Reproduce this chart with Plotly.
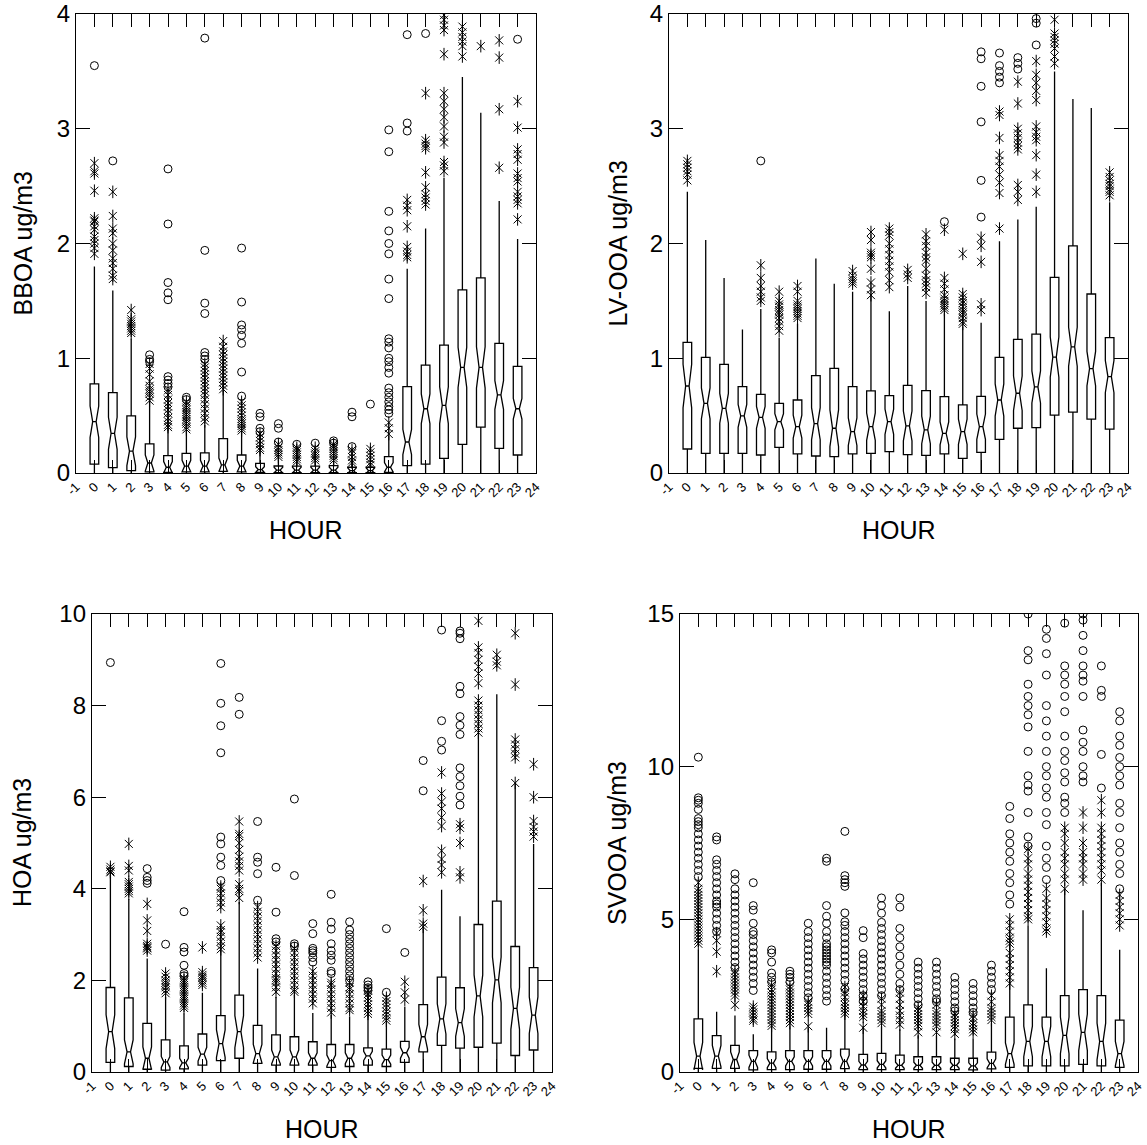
import plotly.graph_objects as go

W, H = 1147, 1145
HOURS = list(range(24))
XTICK_VALS = list(range(-1, 25))
XTICK_TEXT = [str(v) for v in XTICK_VALS]

# ---------------- BBOA ----------------
BBOA_Q1 = [0.078, 0.047, 0.02, 0.01, 0.005, 0.01, 0.01, 0.015, 0.01, 0.005, 0.004, 0.004, 0.004, 0.004, 0.003, 0.003, 0.005, 0.064, 0.078, 0.128, 0.25, 0.40, 0.215, 0.157]
BBOA_MED = [0.447, 0.346, 0.19, 0.087, 0.05, 0.06, 0.06, 0.07, 0.06, 0.03, 0.025, 0.025, 0.025, 0.025, 0.02, 0.02, 0.05, 0.27, 0.56, 0.59, 0.92, 0.92, 0.68, 0.56]
BBOA_Q3 = [0.776, 0.70, 0.497, 0.253, 0.151, 0.171, 0.175, 0.30, 0.157, 0.084, 0.061, 0.06, 0.06, 0.065, 0.05, 0.05, 0.142, 0.752, 0.94, 1.115, 1.595, 1.70, 1.13, 0.93]
BBOA_LO = [0.0] * 24
BBOA_HI = [1.80, 1.59, 1.17, 0.63, 0.40, 0.38, 0.42, 0.72, 0.37, 0.20, 0.13, 0.10, 0.10, 0.10, 0.08, 0.07, 0.33, 1.78, 2.13, 2.57, 3.45, 3.14, 2.37, 2.04]
BBOA_NOTCH = [0.137, 0.14, 0.125, 0.07, 0.05, 0.05, 0.05, 0.06, 0.05, 0.025, 0.025, 0.025, 0.025, 0.025, 0.025, 0.025, 0.04, 0.11, 0.13, 0.16, 0.175, 0.18, 0.125, 0.09]
BBOA_STAR = [
    [2.70, 2.63, 2.61, 2.46, 2.22, 2.20, 2.19, 2.15, 2.12, 2.06, 2.03, 2.00, 1.96, 1.91],
    [2.45, 2.24, 2.13, 2.09, 2.00, 1.94, 1.87, 1.83, 1.78, 1.72, 1.69],
    [1.42, 1.34, 1.32, 1.30, 1.28, 1.26, 1.24, 1.22],
    [0.95, 0.91, 0.86, 0.80, 0.76, 0.73, 0.71, 0.69, 0.66, 0.63],
    [0.72, 0.68, 0.64, 0.61, 0.58, 0.55, 0.52, 0.48, 0.45, 0.42, 0.40],
    [0.62, 0.59, 0.57, 0.55, 0.53, 0.51, 0.49, 0.47, 0.45, 0.43, 0.40, 0.38],
    [0.95, 0.92, 0.89, 0.86, 0.83, 0.80, 0.77, 0.74, 0.71, 0.68, 0.64, 0.60, 0.56, 0.52, 0.48, 0.45],
    [1.15, 1.10, 1.06, 1.03, 1.00, 0.97, 0.94, 0.91, 0.88, 0.85, 0.82, 0.79, 0.76, 0.73],
    [0.62, 0.59, 0.56, 0.53, 0.50, 0.47, 0.45, 0.43, 0.41, 0.39, 0.37],
    [0.34, 0.31, 0.28, 0.25, 0.22, 0.20],
    [0.25, 0.22, 0.20, 0.18, 0.16, 0.14],
    [0.22, 0.20, 0.18, 0.16, 0.14, 0.12, 0.10],
    [0.22, 0.19, 0.17, 0.15, 0.13, 0.11],
    [0.25, 0.23, 0.21, 0.19, 0.17, 0.15, 0.13, 0.11],
    [0.20, 0.17, 0.14, 0.11, 0.09],
    [0.21, 0.18, 0.15, 0.12, 0.09, 0.07],
    [0.44, 0.39, 0.34],
    [2.38, 2.33, 2.29, 2.15, 1.97, 1.93, 1.90, 1.88],
    [3.31, 2.90, 2.87, 2.85, 2.83, 2.62, 2.49, 2.43, 2.40, 2.37, 2.34],
    [3.99, 3.95, 3.90, 3.86, 3.65, 3.31, 3.24, 3.17, 3.10, 3.02, 2.93, 2.88, 2.71, 2.68, 2.63],
    [3.89, 3.84, 3.80, 3.76, 3.72, 3.63],
    [3.72],
    [3.77, 3.62, 3.17, 2.66],
    [3.24, 3.01, 2.82, 2.78, 2.73, 2.61, 2.57, 2.54, 2.45, 2.41, 2.38, 2.35, 2.21],
]
BBOA_CIRC = [
    [3.55], [2.72], [], [1.03, 0.99, 0.97],
    [2.65, 2.17, 1.66, 1.57, 1.51, 0.84, 0.81, 0.78, 0.75],
    [0.66, 0.64],
    [3.79, 1.94, 1.48, 1.39, 1.05, 1.02, 0.99],
    [],
    [1.96, 1.49, 1.29, 1.25, 1.20, 1.13, 0.88, 0.67],
    [0.52, 0.49, 0.39, 0.36],
    [0.43, 0.39, 0.27],
    [0.25], [0.26], [0.28, 0.26], [0.53, 0.49, 0.23], [0.60],
    [2.99, 2.80, 2.28, 2.11, 2.00, 1.91, 1.69, 1.52, 1.17, 1.14, 1.09, 1.00, 0.97, 0.92, 0.87, 0.74, 0.70, 0.66, 0.62, 0.58, 0.55, 0.52],
    [3.82, 3.05, 2.98],
    [3.83], [], [], [], [], [3.78],
]

# ---------------- LV-OOA ----------------
LV_Q1 = [0.209, 0.171, 0.171, 0.171, 0.157, 0.224, 0.166, 0.148, 0.142, 0.166, 0.171, 0.186, 0.16, 0.154, 0.166, 0.128, 0.18, 0.293, 0.39, 0.395, 0.505, 0.53, 0.47, 0.383]
LV_MED = [0.758, 0.607, 0.564, 0.497, 0.485, 0.447, 0.404, 0.43, 0.39, 0.36, 0.404, 0.447, 0.41, 0.375, 0.346, 0.36, 0.404, 0.636, 0.695, 0.75, 1.01, 1.10, 0.91, 0.84]
LV_Q3 = [1.139, 1.008, 0.947, 0.752, 0.685, 0.607, 0.636, 0.848, 0.912, 0.752, 0.715, 0.674, 0.764, 0.717, 0.665, 0.593, 0.668, 1.008, 1.165, 1.21, 1.705, 1.98, 1.56, 1.18]
LV_LO = [0.0] * 24
LV_HI = [2.45, 2.03, 1.70, 1.25, 1.43, 1.18, 1.30, 1.87, 1.65, 1.58, 1.55, 1.41, 1.63, 1.50, 1.39, 1.27, 1.31, 2.02, 2.21, 2.32, 3.50, 3.26, 3.18, 2.36]
LV_NOTCH = [0.19, 0.135, 0.13, 0.10, 0.095, 0.07, 0.10, 0.14, 0.16, 0.12, 0.12, 0.11, 0.13, 0.12, 0.10, 0.11, 0.11, 0.14, 0.15, 0.14, 0.175, 0.17, 0.15, 0.14]
LV_STAR = [
    [2.72, 2.69, 2.66, 2.63, 2.60, 2.55],
    [], [], [],
    [1.81, 1.70, 1.63, 1.58, 1.53, 1.50],
    [1.58, 1.50, 1.47, 1.45, 1.42, 1.40, 1.38, 1.35, 1.32, 1.28, 1.24],
    [1.63, 1.58, 1.50, 1.47, 1.45, 1.43, 1.41, 1.39, 1.37, 1.35],
    [], [],
    [1.76, 1.72, 1.69, 1.67, 1.65],
    [2.10, 2.03, 1.92, 1.90, 1.88, 1.78, 1.66, 1.60, 1.55],
    [2.13, 2.10, 2.07, 2.00, 1.95, 1.90, 1.85, 1.80, 1.75, 1.68, 1.62],
    [1.77, 1.73, 1.70],
    [2.08, 2.02, 1.98, 1.92, 1.88, 1.85, 1.78, 1.72, 1.68, 1.65, 1.62, 1.57],
    [2.12, 1.70, 1.65, 1.60, 1.55, 1.52, 1.50, 1.48, 1.46, 1.44, 1.42],
    [1.91, 1.56, 1.53, 1.50, 1.48, 1.45, 1.42, 1.40, 1.38, 1.35, 1.32, 1.30],
    [2.05, 1.98, 1.84, 1.47, 1.42],
    [3.15, 3.12, 2.92, 2.77, 2.72, 2.67, 2.60, 2.53, 2.44, 2.13],
    [3.41, 3.22, 3.00, 2.96, 2.92, 2.88, 2.85, 2.82, 2.51, 2.45, 2.38],
    [3.59, 3.47, 3.40, 3.33, 3.25, 3.02, 2.97, 2.93, 2.90, 2.77, 2.60, 2.45],
    [3.95, 3.83, 3.80, 3.77, 3.74, 3.70, 3.63, 3.57],
    [], [],
    [2.62, 2.58, 2.55, 2.52, 2.50, 2.47, 2.45, 2.42],
]
LV_CIRC = [
    [], [], [], [], [2.72], [], [], [], [], [], [], [], [], [], [2.19], [],
    [3.67, 3.61, 3.37, 3.06, 2.55, 2.23],
    [3.66, 3.55, 3.50, 3.45, 3.40],
    [3.62, 3.57, 3.52],
    [3.96, 3.92, 3.73],
    [], [], [], [],
]

# ---------------- HOA ----------------
HOA_Q1 = [0.21, 0.12, 0.06, 0.04, 0.07, 0.15, 0.25, 0.30, 0.19, 0.15, 0.15, 0.15, 0.10, 0.12, 0.15, 0.12, 0.21, 0.44, 0.58, 0.52, 0.54, 0.63, 0.36, 0.48]
HOA_MED = [0.88, 0.44, 0.30, 0.22, 0.20, 0.39, 0.62, 0.88, 0.40, 0.33, 0.33, 0.30, 0.25, 0.30, 0.35, 0.27, 0.42, 0.77, 1.16, 1.08, 1.66, 2.01, 1.39, 1.24]
HOA_Q3 = [1.845, 1.62, 1.06, 0.70, 0.57, 0.83, 1.23, 1.68, 1.02, 0.81, 0.77, 0.66, 0.60, 0.60, 0.525, 0.50, 0.67, 1.47, 2.07, 1.84, 3.22, 3.73, 2.74, 2.28]
HOA_LO = [0.0] * 24
HOA_HI = [4.30, 3.78, 2.48, 1.64, 1.28, 1.73, 2.66, 3.71, 2.26, 1.64, 1.68, 1.29, 1.25, 1.21, 1.27, 1.08, 1.43, 3.13, 3.98, 3.40, 7.37, 8.25, 6.31, 4.98]
HOA_NOTCH = [0.37, 0.26, 0.25, 0.12, 0.10, 0.15, 0.30, 0.35, 0.20, 0.15, 0.15, 0.12, 0.12, 0.12, 0.10, 0.10, 0.12, 0.27, 0.33, 0.30, 0.46, 0.50, 0.46, 0.40]
HOA_STAR = [
    [4.48, 4.42, 4.38, 4.36],
    [4.98, 4.50, 4.40, 4.15, 4.10, 4.05, 4.00, 3.95, 3.90],
    [3.67, 3.31, 3.08, 2.80, 2.75, 2.72, 2.70, 2.65],
    [2.15, 2.08, 2.00, 1.95, 1.90, 1.85, 1.78, 1.72],
    [2.05, 2.00, 1.95, 1.90, 1.85, 1.80, 1.75, 1.70, 1.65, 1.60, 1.55, 1.50, 1.45, 1.40],
    [2.72, 2.18, 2.12, 2.08, 2.05, 2.00, 1.95, 1.90],
    [4.05, 4.00, 3.90, 3.80, 3.70, 3.60, 3.20, 3.10, 3.05, 2.95, 2.85, 2.75, 2.68],
    [5.47, 5.20, 5.15, 5.00, 4.85, 4.70, 4.60, 4.50, 4.40, 4.10, 4.00, 3.95, 3.80],
    [3.60, 3.50, 3.40, 3.30, 3.20, 3.10, 3.00, 2.90, 2.80, 2.70, 2.60, 2.50],
    [2.75, 2.65, 2.55, 2.45, 2.35, 2.25, 2.15, 2.05, 2.00, 1.95, 1.85, 1.75],
    [2.70, 2.60, 2.50, 2.40, 2.30, 2.20, 2.10, 2.00, 1.90, 1.80, 1.75],
    [2.20, 2.10, 2.00, 1.90, 1.80, 1.70, 1.60, 1.50],
    [1.95, 1.90, 1.80, 1.70, 1.60, 1.50, 1.40, 1.30],
    [1.95, 1.85, 1.80, 1.70, 1.60, 1.50, 1.40, 1.35],
    [1.78, 1.70, 1.62, 1.55, 1.48, 1.40, 1.33, 1.27],
    [1.62, 1.55, 1.48, 1.40, 1.32, 1.25, 1.18, 1.12],
    [1.97, 1.74, 1.58],
    [4.17, 3.53, 3.24, 3.17],
    [6.54, 6.08, 5.90, 5.75, 5.56, 5.37, 4.83, 4.65, 4.52, 4.36],
    [5.41, 5.33, 5.00, 4.36, 4.25],
    [9.85, 9.27, 9.15, 9.00, 8.85, 8.70, 8.49, 8.11, 8.00, 7.90, 7.80, 7.70, 7.60, 7.50, 7.41],
    [9.11, 8.96, 8.88],
    [9.58, 8.46, 7.26, 7.15, 7.05, 6.95, 6.87, 6.31],
    [6.72, 6.00, 5.48, 5.35, 5.25, 5.14],
]
HOA_CIRC = [
    [8.94], [], [4.44, 4.25, 4.18, 4.12], [2.79],
    [3.50, 2.72, 2.62, 2.33, 2.15, 2.10],
    [],
    [8.92, 8.05, 7.56, 6.97, 5.13, 4.98, 4.69, 4.51, 4.18],
    [8.18, 7.81],
    [5.47, 4.69, 4.58, 4.33, 3.75],
    [4.47, 3.49, 2.91, 2.84],
    [5.96, 4.29, 2.80, 2.75],
    [3.24, 3.02, 2.70, 2.65, 2.60, 2.50, 2.40],
    [3.88, 3.27, 3.12, 2.80, 2.65, 2.55, 2.44, 2.20, 2.15],
    [3.28, 3.10, 3.00, 2.90, 2.80, 2.70, 2.60, 2.50, 2.40, 2.30, 2.20, 2.10, 2.00],
    [1.97, 1.90, 1.84, 1.78],
    [3.13, 1.74],
    [2.61],
    [6.80, 6.14],
    [9.65, 7.67, 7.22, 7.03],
    [9.63, 9.58, 9.46, 8.42, 8.26, 7.76, 7.57, 7.37, 6.64, 6.45, 6.25, 6.02, 5.83],
    [], [], [], [],
]

# ---------------- SVOOA ----------------
SV_Q1 = [0.12, 0.12, 0.12, 0.07, 0.08, 0.08, 0.09, 0.09, 0.11, 0.08, 0.08, 0.08, 0.08, 0.08, 0.08, 0.07, 0.10, 0.15, 0.20, 0.20, 0.20, 0.25, 0.20, 0.15]
SV_MED = [0.52, 0.52, 0.41, 0.35, 0.29, 0.35, 0.35, 0.35, 0.35, 0.23, 0.25, 0.22, 0.22, 0.22, 0.22, 0.20, 0.28, 0.60, 1.00, 1.00, 1.20, 1.30, 1.00, 0.60]
SV_Q3 = [1.74, 1.19, 0.87, 0.70, 0.66, 0.70, 0.70, 0.70, 0.75, 0.58, 0.61, 0.55, 0.50, 0.50, 0.45, 0.45, 0.65, 1.80, 2.20, 1.80, 2.50, 2.70, 2.50, 1.70]
SV_LO = [0.0] * 24
SV_HI = [4.00, 1.97, 1.85, 1.24, 1.50, 1.50, 1.45, 1.45, 1.97, 1.50, 1.50, 1.40, 1.20, 1.20, 1.10, 1.10, 1.60, 4.20, 4.80, 3.40, 6.00, 5.30, 6.20, 4.00]
SV_NOTCH = [0.45, 0.35, 0.25, 0.20, 0.15, 0.15, 0.15, 0.15, 0.20, 0.12, 0.12, 0.10, 0.10, 0.10, 0.10, 0.10, 0.15, 0.35, 0.50, 0.50, 0.60, 0.60, 0.60, 0.40]
SV_STAR = [
    [6.2, 6.0, 5.9, 5.8, 5.7, 5.6, 5.5, 5.4, 5.3, 5.2, 5.1, 5.0, 4.9, 4.8, 4.7, 4.6, 4.5, 4.4, 4.3, 4.2],
    [4.55, 4.3, 3.94, 3.30],
    [3.3, 3.2, 3.1, 3.0, 2.9, 2.8, 2.7, 2.6, 2.5, 2.2],
    [2.14, 2.05, 1.95, 1.85, 1.75, 1.68],
    [2.84, 2.7, 2.6, 2.5, 2.4, 2.3, 2.2, 2.1, 2.0, 1.9, 1.8, 1.7, 1.6, 1.51],
    [2.8, 2.7, 2.6, 2.5, 2.4, 2.3, 2.2, 2.1, 2.0, 1.9, 1.8, 1.7, 1.6],
    [2.3, 2.2, 2.1, 2.0, 1.9, 1.5],
    [],
    [2.78, 2.6, 2.45, 2.3, 2.2, 2.1, 2.0, 1.91],
    [2.49, 2.3, 2.15, 2.0, 1.9, 1.8, 1.45],
    [2.4, 2.2, 2.0, 1.9, 1.8, 1.7, 1.6],
    [2.6, 2.4, 2.2, 2.0, 1.85, 1.7, 1.55],
    [2.1, 2.0, 1.9, 1.8, 1.7, 1.6, 1.5, 1.3],
    [2.2, 2.0, 1.9, 1.8, 1.7, 1.6, 1.5, 1.3],
    [1.9, 1.8, 1.7, 1.6, 1.5, 1.4, 1.25],
    [1.85, 1.75, 1.6, 1.5, 1.4, 1.3],
    [2.5, 2.3, 2.1, 2.0, 1.9, 1.8, 1.7],
    [5.0, 4.8, 4.6, 4.4, 4.3, 4.2, 3.9, 3.7, 3.5, 3.3, 3.1, 2.9],
    [7.3, 7.0, 6.8, 6.5, 6.3, 6.1, 5.9, 5.7, 5.5, 5.3, 5.1, 5.0],
    [6.0, 5.7, 5.5, 5.3, 5.1, 4.9, 4.7, 4.6],
    [8.0, 7.8, 7.5, 7.2, 7.0, 6.8, 6.5, 6.3, 6.0],
    [8.5, 8.0, 7.5, 7.2, 7.0, 6.8, 6.5, 6.3],
    [8.9, 8.5, 8.0, 7.8, 7.6, 7.4, 7.2, 7.0, 6.8, 6.6, 6.3],
    [5.8, 5.6, 5.4, 5.2, 5.0, 4.8],
]
SV_CIRC = [
    [10.31, 8.98, 8.9, 8.8, 8.6, 8.3, 8.2, 8.1, 8.0, 7.8, 7.6, 7.4, 7.2, 7.0, 6.8, 6.6, 6.4],
    [7.7, 7.6, 6.95, 6.8, 6.6, 6.4, 6.2, 6.0, 5.8, 5.6, 5.5, 5.4, 5.2, 5.0, 4.8, 4.6],
    [6.49, 6.3, 6.0, 5.8, 5.6, 5.4, 5.2, 5.0, 4.8, 4.6, 4.4, 4.2, 4.0, 3.8, 3.6, 3.42],
    [6.2, 5.45, 5.3, 4.87, 4.6, 4.5, 4.3, 4.1, 3.9, 3.7, 3.5, 3.3, 3.1, 2.9, 2.67],
    [4.0, 3.9, 3.6, 3.24, 3.1, 2.95],
    [3.3, 3.2, 3.1, 2.95],
    [4.87, 4.6, 4.4, 4.2, 4.0, 3.8, 3.6, 3.4, 3.2, 3.0, 2.8, 2.6, 2.43],
    [7.0, 6.9, 5.45, 5.1, 4.87, 4.6, 4.4, 4.2, 4.1, 4.0, 3.9, 3.8, 3.7, 3.6, 3.5, 3.3, 3.1, 2.9, 2.7, 2.5, 2.32],
    [7.88, 6.43, 6.3, 6.2, 6.08, 5.21, 4.92, 4.8, 4.6, 4.4, 4.2, 4.0, 3.8, 3.6, 3.4, 3.2, 3.0, 2.72],
    [4.63, 4.4, 3.88, 3.7, 3.5, 3.3, 3.1, 2.9, 2.7, 2.5, 2.32],
    [5.7, 5.45, 5.2, 4.9, 4.7, 4.5, 4.3, 4.1, 3.9, 3.7, 3.5, 3.3, 3.1, 2.9, 2.7, 2.5],
    [5.7, 5.4, 4.7, 4.4, 4.1, 3.8, 3.5, 3.2, 2.9, 2.7],
    [3.6, 3.4, 3.2, 3.0, 2.8, 2.6, 2.4, 2.2],
    [3.6, 3.4, 3.2, 3.0, 2.8, 2.6, 2.4, 2.3],
    [3.1, 2.9, 2.7, 2.5, 2.3, 2.1, 2.0],
    [2.9, 2.7, 2.5, 2.3, 2.1, 1.95],
    [3.5, 3.3, 3.1, 2.9, 2.7],
    [8.7, 8.3, 7.8, 7.5, 7.2, 6.9, 6.5, 6.2, 5.8, 5.5],
    [15.0, 13.8, 13.5, 12.7, 12.3, 12.0, 11.7, 11.3, 10.5, 9.7, 9.4, 9.2, 8.5, 7.7, 7.4],
    [14.5, 14.2, 13.7, 13.0, 12.0, 11.5, 11.0, 10.5, 10.0, 9.7, 9.3, 9.0, 8.5, 8.1, 7.4, 7.0, 6.7, 6.3],
    [14.7, 13.3, 13.0, 12.7, 12.3, 11.8, 11.0, 10.5, 10.2, 9.8, 9.5, 9.0, 8.8, 8.5],
    [15.0, 14.8, 14.3, 13.8, 13.3, 13.0, 12.8, 12.3, 11.2, 10.8, 10.5, 10.0, 9.7, 9.5],
    [13.3, 12.5, 12.3, 10.4, 9.3],
    [11.8, 11.5, 11.0, 10.7, 10.3, 10.0, 9.7, 9.4, 8.8, 8.5, 8.0, 7.5, 7.2, 6.8, 6.5, 6.0],
]

Y_TITLES = ["BBOA ug/m3", "LV-OOA ug/m3", "HOA ug/m3", "SVOOA ug/m3"]
Y_MAX = [4, 4, 10, 15]
Y_TICKS = [[0, 1, 2, 3, 4], [0, 1, 2, 3, 4], [0, 2, 4, 6, 8, 10], [0, 5, 10, 15]]
X_TITLE = "HOUR"

PANELS = [
    (BBOA_Q1, BBOA_MED, BBOA_Q3, BBOA_LO, BBOA_HI, BBOA_NOTCH, BBOA_STAR, BBOA_CIRC),
    (LV_Q1, LV_MED, LV_Q3, LV_LO, LV_HI, LV_NOTCH, LV_STAR, LV_CIRC),
    (HOA_Q1, HOA_MED, HOA_Q3, HOA_LO, HOA_HI, HOA_NOTCH, HOA_STAR, HOA_CIRC),
    (SV_Q1, SV_MED, SV_Q3, SV_LO, SV_HI, SV_NOTCH, SV_STAR, SV_CIRC),
]

# pixel frames of each plot area: left, right, top, bottom
FRAMES = [(76, 536, 14, 473), (669, 1128, 14, 473), (92, 552, 614, 1072), (680, 1138, 614, 1072)]
YTITLE_X = [22, 617, 22, 617]
FONT = "Liberation Sans, Arial, sans-serif"

fig = go.Figure()
layout = dict(width=W, height=H, margin=dict(l=0, r=0, t=0, b=0, autoexpand=False), autosize=False,
              paper_bgcolor="white", plot_bgcolor="white", showlegend=False,
              font=dict(family=FONT, color="black"))
annotations = []

for i, (p, fr) in enumerate(zip(PANELS, FRAMES)):
    q1, med, q3, lo, hi, notch, star, circ = p
    sfx = "" if i == 0 else str(i + 1)
    xa, ya = "x" + sfx, "y" + sfx
    fig.add_trace(go.Box(
        x=HOURS, q1=q1, median=med, q3=q3, lowerfence=lo, upperfence=hi,
        notchspan=notch, notched=True, notchwidth=0.3, width=0.47, whiskerwidth=0,
        boxpoints=False, line=dict(color="black", width=1.3),
        fillcolor="rgba(0,0,0,0)", xaxis=xa, yaxis=ya, hoverinfo="skip"))
    sx = [h for h, vals in zip(HOURS, star) for _ in vals]
    sy = [v for vals in star for v in vals]
    cx = [h for h, vals in zip(HOURS, circ) for _ in vals]
    cy = [v for vals in circ for v in vals]
    for sym, sz in (("x-thin-open", 8), ("line-ns-open", 9)):
        fig.add_trace(go.Scatter(x=sx, y=sy, mode="markers", xaxis=xa, yaxis=ya,
                                 marker=dict(symbol=sym, size=sz, color="black",
                                             line=dict(color="black", width=1)),
                                 hoverinfo="skip"))
    fig.add_trace(go.Scatter(x=cx, y=cy, mode="markers", xaxis=xa, yaxis=ya,
                             marker=dict(symbol="circle-open", size=8, color="black",
                                         line=dict(color="black", width=1)),
                             hoverinfo="skip"))
    l, r, t, b = fr
    layout["xaxis" + sfx] = dict(
        domain=[l / W, r / W], anchor=ya, range=[-1, 24], tickmode="array",
        tickvals=XTICK_VALS, ticktext=XTICK_TEXT, tickangle=-45, automargin=False,
        ticklabeloverflow="allow",
        ticks="inside", ticklen=13, tickwidth=1.2, tickcolor="black",
        showline=True, linecolor="black", linewidth=1.3, mirror="ticks",
        showgrid=False, zeroline=False, tickfont=dict(size=13, family=FONT, color="black"))
    layout["yaxis" + sfx] = dict(
        domain=[1 - b / H, 1 - t / H], anchor=xa, range=[0, Y_MAX[i]], tickmode="array",
        tickvals=Y_TICKS[i], ticks="inside", ticklen=14, tickwidth=1.2, tickcolor="black",
        automargin=False,
        showline=True, linecolor="black", linewidth=1.3, mirror="ticks",
        showgrid=False, zeroline=False, tickfont=dict(size=24, family=FONT, color="black"))
    annotations.append(dict(text=Y_TITLES[i], x=YTITLE_X[i] / W, y=1 - (t + b) / 2 / H,
                            xref="paper", yref="paper", showarrow=False, textangle=-90,
                            xanchor="center", yanchor="middle",
                            font=dict(size=25, family=FONT, color="black")))
    annotations.append(dict(text=X_TITLE, x=(l + r) / 2 / W, y=1 - (b + 57) / H,
                            xref="paper", yref="paper", showarrow=False,
                            xanchor="center", yanchor="middle",
                            font=dict(size=25, family=FONT, color="black")))

layout["annotations"] = annotations
fig.update_layout(**layout)
fig.write_html("out.html")
